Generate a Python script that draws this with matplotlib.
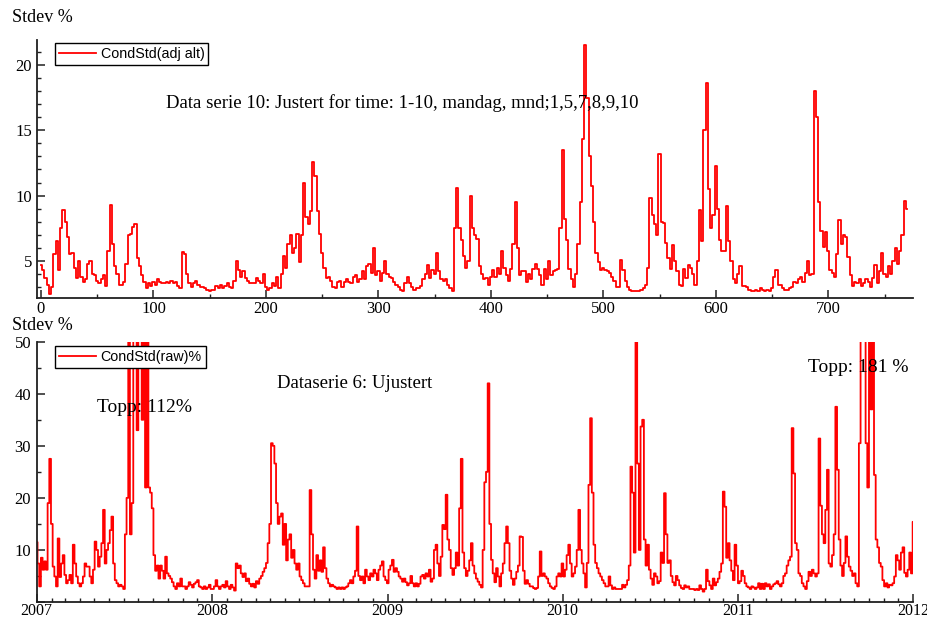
import numpy as np
import pandas as pd
import matplotlib
matplotlib.use("Agg")
import matplotlib.pyplot as plt
import matplotlib.dates as mdates
from matplotlib.ticker import MultipleLocator, FuncFormatter

# ---- Series 10, adjusted (one value every second observation) ----
adj_a = [4.7, 4.3, 3.7, 3.2, 2.5, 3.0, 5.5, 6.5, 4.3, 7.5, 8.9, 8.0, 6.8, 5.5, 5.6, 4.5,
         3.7, 5.0, 3.8, 3.4, 3.6, 4.8, 5.0, 4.0, 3.9, 3.5, 3.3, 3.6, 3.9, 3.1, 5.8, 9.3,
         6.3, 4.6, 4.0, 3.2, 3.2, 3.4, 4.8, 7.0, 7.1, 7.6, 7.8, 5.2, 4.6, 3.9, 3.4, 2.9,
         3.3, 3.1, 3.4, 3.2, 3.6, 3.4, 3.3, 3.3, 3.4, 3.3, 3.5, 3.3, 3.4, 3.1, 2.9, 5.7, 5.5]
adj_b = [4.0, 3.3, 3.0, 3.3, 3.5, 3.2, 3.0, 3.0, 2.9, 2.8, 2.7, 2.8, 2.8, 3.1, 2.9, 3.2,
         2.9, 3.1, 3.3, 3.0, 2.9, 3.5, 5.0, 4.3, 3.8, 4.2, 3.7, 3.5, 3.3, 3.3, 3.3, 3.7,
         3.5, 3.3, 4.0, 3.0, 2.8, 2.9, 3.3, 3.1, 3.8, 2.9, 4.0, 5.4, 4.5, 6.3, 7.0, 5.6,
         6.0, 7.1, 4.9, 7.0, 11.0, 8.4, 7.8, 8.8, 12.6, 11.5, 8.8, 7.1, 5.6, 4.5, 3.7, 3.8]
adj_c = [3.5, 3.0, 2.9, 3.4, 3.5, 3.0, 3.4, 3.6, 3.4, 3.3, 3.8, 3.9, 3.4, 3.6, 4.2, 3.6,
         4.6, 4.8, 4.1, 6.0, 3.9, 4.2, 3.5, 4.1, 5.0, 4.0, 3.8, 3.7, 3.4, 3.2, 3.0, 2.8,
         2.7, 3.3, 3.8, 3.3, 3.0, 2.8, 2.9, 2.9, 3.1, 3.6, 4.0, 4.7, 3.7, 4.3, 4.0, 5.6,
         4.2, 3.6, 3.5, 3.6, 3.2, 2.9, 2.7, 7.5, 10.6, 7.5, 6.6, 5.4, 4.5, 5.0, 10.0, 7.5, 7.0]
adj_d = [6.7, 4.6, 4.0, 3.6, 3.7, 3.2, 3.8, 4.3, 3.8, 4.5, 4.0, 5.8, 4.5, 3.9, 3.5, 4.4,
         6.3, 9.5, 6.0, 3.9, 4.2, 4.2, 3.4, 4.0, 3.6, 4.4, 4.8, 4.4, 3.9, 3.2, 4.4, 3.6,
         5.0, 3.9, 4.2, 4.3, 4.4, 7.5, 13.5, 8.2, 6.6, 4.4, 3.6, 3.0, 4.0, 6.3, 9.5, 14.3,
         21.5, 17.5, 13.0, 10.7, 8.0, 5.6, 4.9, 4.3, 4.5, 4.3, 4.2, 4.1, 3.8, 3.5, 3.0, 3.0]
adj_e = [5.1, 4.3, 3.5, 3.0, 2.8, 2.7, 2.7, 2.7, 2.7, 2.8, 2.9, 3.2, 4.5, 9.8, 8.5, 7.8,
         7.0, 13.2, 8.0, 7.9, 6.4, 5.2, 4.4, 6.2, 5.0, 4.2, 3.2, 3.1, 4.4, 3.7, 4.7, 4.5,
         4.0, 3.2, 5.0, 8.9, 6.5, 15.0, 18.6, 10.5, 7.5, 8.5, 12.3, 9.0, 6.6, 5.8, 5.8, 9.2,
         6.5, 5.0, 3.6, 3.3, 4.0, 4.6, 3.1, 3.1, 3.0, 2.8, 2.7, 2.7, 2.8, 2.7, 2.9, 2.8, 2.7]
adj_f = [2.8, 2.7, 2.9, 3.8, 4.3, 3.2, 3.2, 2.9, 2.8, 2.8, 2.9, 3.0, 3.4, 3.3, 3.6, 3.8,
         3.4, 4.1, 5.0, 3.9, 4.0, 18.0, 16.0, 9.5, 7.3, 6.1, 7.2, 5.8, 4.3, 4.1, 3.8, 5.5,
         8.1, 6.3, 7.0, 6.8, 5.3, 3.9, 3.1, 3.4, 3.3, 3.6, 3.1, 3.3, 3.6, 3.4, 3.0, 3.7,
         4.7, 3.3, 4.2, 5.6, 4.0, 3.8, 4.6, 4.0, 5.0, 6.0, 4.8, 5.8, 7.0, 9.6, 9.0]

# ---- Series 6, unadjusted (one value every 3.5 days, from 2007-01-01) ----
raw_2007 = [11.5, 7.4, 3.0, 8.5, 6.2, 7.8, 6.2, 19, 27.5, 15, 6.8, 4.9, 3.0, 12.2, 4.8, 7.4,
            9.0, 5.2, 3.6, 4.2, 5.2, 3.6, 11.0, 7.4, 4.9, 3.6, 3.0, 3.6, 4.9, 7.4, 6.8, 6.8,
            4.9, 3.6, 6.2, 11.6, 10.0, 6.8, 8.7, 11.3, 17.7, 7.4, 10.0, 11.3, 13.8, 16.4, 7.4,
            4.2, 3.6, 3.0, 3.3, 3.0, 2.5, 13.0, 20, 75, 13, 19, 90, 60, 33, 112, 70, 35, 55,
            22, 80, 22, 21, 18, 9, 6.0, 7.0, 4.5, 7.0, 6.0, 4.5, 8.7, 5.5, 5.0, 4.5, 3.8, 3.0,
            2.5, 3.6, 3.0, 4.5, 3.0, 3.0, 2.5, 3.0, 3.8, 3.3, 2.8, 3.5, 3.8, 4.2, 3.0, 2.8,
            2.5, 3.0, 2.5, 2.8, 3.3, 2.5]
raw_2008 = [2.5, 3.0, 4.2, 3.0, 2.5, 3.0, 3.3, 2.8, 4.0, 3.0, 2.5, 3.3, 2.8, 2.2, 7.4,
            6.5, 7.0, 5.5, 4.8, 5.5, 4.0, 4.5, 3.5, 3.0, 3.5, 2.8, 4.0, 3.5, 4.5, 5.0, 5.8,
            6.5, 7.5, 11.3, 15, 30.5, 30, 26.6, 19, 15, 16.4, 17, 11, 15, 8, 12, 13, 8.5, 10,
            7.4, 6.2, 7.4, 4.9, 4.2, 3.6, 3.0, 3.0, 3.0, 21.5, 13, 6.2, 4.5, 9, 6,
            8.0, 5.8, 10.5, 6.5, 4.5, 3.6, 3.0, 3.3, 3.0, 2.8, 2.5, 2.8, 2.5, 2.8, 2.5, 2.8,
            3.0, 3.6, 4.2, 3.6, 4.9, 6.0, 14.5, 5.0, 4.2, 4.9, 3.6, 6.2, 4.9, 4.2, 5.5, 4.9,
            6.2, 5.5, 4.2, 6.2, 7.0, 7.8, 4.9, 4.2]
raw_2009 = [3.6, 6.2, 7.0, 8.1, 5.8, 6.5, 5.8, 4.9, 4.5, 3.9, 4.5, 3.8, 3.2, 3.6, 5.0, 3.6,
            3.0, 3.6, 3.0, 3.5, 4.9, 5.2, 4.5, 5.5, 4.9, 6.2, 3.9, 4.5, 10.0, 11.0, 7.4, 5.0,
            8.7, 14.8, 14.0, 20.6, 12, 10, 6.5, 5.2, 6.5, 9.5, 7.0, 18, 27.5, 9.5, 6.5, 5.0,
            6.0, 8.0, 11.3, 7.0, 5.5, 4.5, 3.9, 3.3, 2.8, 10.0, 23, 25, 42, 15, 8.1, 5.5, 3.8,
            6.5, 4.9, 3.0, 5.5, 7.4, 11.3, 14.5, 11.3, 6.0, 4.5, 3.3, 4.5, 5.8, 7.0, 12.6,
            12.5, 6.0, 3.5, 4.2, 3.5, 3.0, 3.0, 2.7, 2.5, 2.7, 4.9, 9.7, 5.0, 5.5, 4.9, 4.5,
            3.6, 3.0, 2.7, 2.5, 3.0, 4.9, 5.5, 4.9, 7.4]
raw_2010 = [4.9, 6.2, 9.0, 11, 7.4, 4.9, 5.5, 6.8, 10, 17.7, 10, 7.4, 5.5, 2.8, 7.5,
            22.5, 35.3, 21.0, 11.0, 7.5, 6.5, 5.5, 4.9, 4.2, 3.6, 3.0, 3.0, 4.9, 3.2, 2.5, 2.8,
            2.5, 2.5, 2.5, 2.5, 3.3, 2.8, 3.3, 4.2, 7.0, 26, 21, 9.5, 75, 26.6, 10, 33.7, 35,
            12, 7.0, 11, 6.2, 4.5, 3.3, 5.5, 4.9, 3.6, 4.0, 9.5, 7.5, 20.9, 13, 7.5, 8.0, 5.0,
            3.8, 3.2, 5.0, 4.2, 3.2, 2.7, 2.5, 3.2, 2.8, 3.0, 2.5, 2.5, 2.5, 2.3, 2.5, 2.3,
            3.2, 2.5, 2.0, 2.5, 6.2, 4.0, 3.2, 2.5, 4.5, 3.2, 3.8, 4.5, 5.8, 7.4, 21.2, 18.3,
            8.5, 11.3, 8.0, 6.0, 4.2, 11.0, 7.0]
raw_2011 = [3.6, 4.0, 6.0, 5.0, 3.6, 3.0, 2.8, 2.5, 3.0, 2.8, 2.5, 2.8, 3.6, 2.5, 3.5, 2.5,
            3.6, 3.0, 3.4, 2.5, 3.0, 3.4, 3.6, 4.0, 3.4, 3.0, 3.6, 5.0, 5.5, 7.0, 8.0, 8.7,
            33.4, 24.7, 11.3, 10.0, 5.5, 5.0, 3.6, 3.0, 2.5, 4.0, 5.8, 5.0, 6.2, 5.5, 4.9, 5.5,
            31.4, 18.5, 13, 11.3, 17.7, 25.4, 7.4, 6.8, 9.0, 13, 37.5, 25.4, 12, 7.0, 5.0, 7.5,
            12.6, 8.7, 6.8, 6.0, 5.0, 5.5, 3.6, 3.0, 30.5, 60, 110, 140, 30.5, 22, 181, 37, 90,
            24.4, 12, 10.5, 7.5, 6.8, 4.2, 3.0, 3.6, 2.8, 3.3, 3.2, 3.6, 4.9, 9.0, 8.0, 6.2,
            9.5, 10.5, 5.6, 4.9, 6.2, 9.5, 5.5, 15.4]

adj = np.array(adj_a + adj_b + adj_c + adj_d + adj_e + adj_f)
obs = np.arange(len(adj)) * 2

raw = np.array(raw_2007 + raw_2008 + raw_2009 + raw_2010 + raw_2011)
dates = pd.date_range("2007-01-01", periods=len(raw), freq="84h")

W, H = 928, 621
serif = "Liberation Serif"
sans = "Liberation Sans"
red = "#ff0000"

fig = plt.figure(figsize=(W / 100, H / 100), dpi=100)
ax1 = fig.add_axes([37.5 / W, 1 - 298 / H, (913 - 37.5) / W, (298 - 40) / H])
ax2 = fig.add_axes([36.7 / W, 1 - 602 / H, (913 - 36.7) / W, (602 - 341.7) / H])


def style(ax, xpad):
    for s in ("top", "right"):
        ax.spines[s].set_visible(False)
    for s in ("left", "bottom"):
        ax.spines[s].set_linewidth(1.3)
        ax.spines[s].set_color("#202020")
    ax.tick_params(which="major", direction="in", length=6, width=1.1, color="#202020",
                   labelsize=12, pad=4)
    ax.tick_params(which="minor", direction="in", length=3, width=1.0, color="#202020")
    ax.tick_params(axis="x", which="major", pad=xpad)
    for lab in ax.get_xticklabels() + ax.get_yticklabels():
        lab.set_fontfamily(serif)


# ---- top panel ----
ax1.plot(obs, adj, color=red, lw=1.3, drawstyle="steps-mid", label="CondStd(adj alt)")
ax1.set_xlim(-3.1, 775.3)
ax1.set_ylim(2.17, 21.9)
ax1.xaxis.set_major_locator(MultipleLocator(100))
ax1.xaxis.set_minor_locator(MultipleLocator(50))
ax1.yaxis.set_major_locator(MultipleLocator(5))
ax1.yaxis.set_minor_locator(MultipleLocator(1))
style(ax1, 2)
leg1 = ax1.legend(loc="upper left", bbox_to_anchor=(0.02, 0.99), borderaxespad=0,
                  prop={"family": sans, "size": 10.3}, fancybox=False, framealpha=1,
                  edgecolor="black", handlelength=2.6, handletextpad=0.3,
                  borderpad=0.28)
leg1.get_frame().set_linewidth(1.0)

# ---- bottom panel ----
ax2.plot(dates, raw, color=red, lw=1.3, drawstyle="steps-mid", label="CondStd(raw)%")
ax2.set_xlim(pd.Timestamp("2007-01-01"), pd.Timestamp("2012-01-01"))
ax2.set_ylim(0, 50)
ax2.xaxis.set_major_locator(mdates.YearLocator())
ax2.xaxis.set_major_formatter(mdates.DateFormatter("%Y"))
ax2.xaxis.set_minor_locator(mdates.MonthLocator())
ax2.yaxis.set_major_locator(MultipleLocator(10))
ax2.yaxis.set_minor_locator(MultipleLocator(5))
ax2.yaxis.set_major_formatter(FuncFormatter(lambda v, p: "" if v == 0 else f"{v:.0f}"))
style(ax2, 0.5)
for lab in ax2.get_xticklabels():
    lab.set_fontsize(11.5)
leg2 = ax2.legend(loc="upper left", bbox_to_anchor=(0.021, 0.985), borderaxespad=0,
                  prop={"family": sans, "size": 10.3}, fancybox=False, framealpha=1,
                  edgecolor="black", handlelength=2.6, handletextpad=0.3,
                  borderpad=0.28)
leg2.get_frame().set_linewidth(1.0)

# ---- labels and notes ----
def note(px, py, s, size=13.5):
    fig.text(px / W, 1 - py / H, s, family=serif, fontsize=size, ha="left", va="center",
             color="black")


note(12, 18, "Stdev %", 13)
note(166, 103, "Data serie 10: Justert for time: 1-10, mandag, mnd;1,5,7,8,9,10")
note(12, 326, "Stdev %", 13)
note(277, 383, "Dataserie 6: Ujustert")
note(97, 408, "Topp: 112%", 14)
note(808, 367, "Topp: 181 %", 14)

fig.savefig("out.png", dpi=100)
